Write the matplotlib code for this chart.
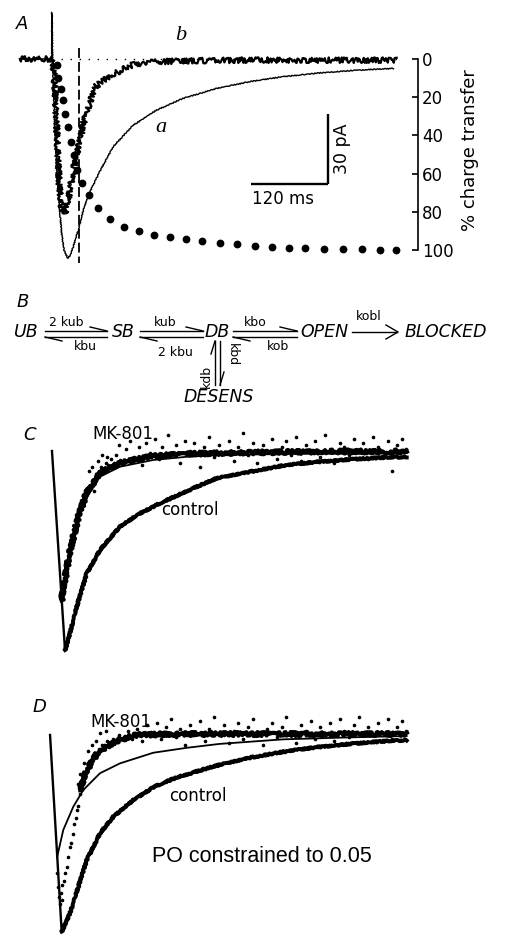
import matplotlib
matplotlib.use('Agg')
import matplotlib.pyplot as plt

plt.rcParams['font.family'] = ['DejaVu Sans']

# ---------------- data (time in ms, current in pA / normalised) -------------
# Panel A : trace a (control) and trace b (MK-801), pA
a_t = [-50, -0.4, 0, 0.8, 2, 4.7, 7.3, 11.4, 15, 19, 24.4, 29, 34, 41, 48.8, 59,
       75, 95, 126, 163, 204, 257, 308, 360, 412, 464, 532]
a_i = [0, 0, 20, 0, -10.4, -31.7, -46, -63, -74.7, -82, -85.4, -84, -79.7, -73.3,
       -64.7, -57, -48, -37.7, -28.5, -21.9, -16.9, -12.6, -9.7, -7.6, -6.1, -5, -4]
b_t = [-50, 0, 2, 4.7, 8.3, 11.4, 15, 20.3, 25.4, 30.6, 37.4, 46.2, 51.4, 55, 67,
       85, 106, 127, 153, 200, 300, 400, 537]
b_i = [0, 0, -3, -11.9, -34.7, -54.7, -63.3, -66.1, -60.4, -51.9, -41.9, -31.9,
       -24.7, -21.9, -12, -8.3, -5, -2.3, -1.3, -0.8, -0.5, -0.5, -0.5]
# cumulative charge transfer of trace a, %
ct_t = [7.3, 9.9, 13.5, 17.7, 20.3, 24.4, 29.1, 34.3, 39.5, 46.2, 58.2, 72.2, 90.4,
        112.7, 136.1, 159.5, 184, 209, 233.4, 262, 288, 316.5, 343.5, 368.5, 394.5,
        423, 454, 483, 511.5, 536.4]
ct_pct = [3.0, 10.0, 15.7, 21.7, 28.7, 35.7, 43.2, 50.2, 58.0, 64.7, 71.2, 78.1,
          83.7, 87.8, 90.0, 92.1, 93.4, 94.4, 95.1, 96.2, 96.9, 97.7, 98.3, 98.8,
          99.1, 99.3, 99.5, 99.7, 100, 100]
pct_ticks = [0, 20, 40, 60, 80, 100]
dash_t = 42
scale_t, scale_i = 120, 30

# Panel C (normalised current)
c_rise_t = [0, 20.3]
c_rise_i = [0, -1.0]
c_ctrl_t = [20.3, 28.0, 38.5, 54.1, 74.8, 105.9, 137.1, 168.3, 209.9, 256.6,
            308.5, 360.4, 412.4, 464.3, 516.2, 552.6]
c_ctrl_i = [-1.0, -0.916, -0.782, -0.615, -0.497, -0.380, -0.313, -0.263,
            -0.201, -0.137, -0.104, -0.073, -0.055, -0.042, -0.033, -0.029]
c_fit_t = [15, 28.0, 41.0, 54.1, 74.8, 105.9, 157.8, 209.9, 261.7, 360.4, 464,
           552.6]
c_fit_i = [-0.749, -0.514, -0.347, -0.230, -0.129, -0.079, -0.045, -0.029,
           -0.020, -0.015, -0.013, -0.010]
c_mk_t = [15, 28, 41, 54, 75, 106, 158, 210, 262, 360, 464, 553]
c_mk_i = [-0.75, -0.50, -0.33, -0.21, -0.11, -0.06, -0.025, -0.015, -0.01,
          -0.005, -0.002, -0.002]
c_dot_t = [16, 18, 20, 21, 23, 25, 26, 28, 30, 31, 33, 35, 37, 39, 40, 42, 44, 46,
           48, 50, 52, 55, 57, 60, 62, 65, 68, 70, 74, 77, 80, 84, 88, 92, 96,
           58, 63, 72, 66, 85, 78,
           100, 105, 110, 115, 122, 128, 135, 140, 147, 153, 160, 166, 172, 180,
           186, 193, 200, 208, 215, 222, 230, 237, 245, 252, 260, 268, 275, 283,
           290, 298, 305, 313, 320, 328, 335, 343, 350, 358, 365, 373, 380, 388,
           395, 403, 410, 418, 425, 433, 440, 448, 455, 463, 470, 478, 485, 493,
           500, 508, 515, 523, 530, 538, 545, 552]
c_dot_i = [-0.70, -0.68, -0.64, -0.67, -0.59, -0.57, -0.53, -0.50, -0.49, -0.45,
           -0.44, -0.40, -0.39, -0.35, -0.37, -0.32, -0.31, -0.27, -0.27, -0.24,
           -0.25, -0.20, -0.19, -0.17, -0.15, -0.14, -0.12, -0.13, -0.10, -0.08,
           -0.09, -0.06, -0.07, -0.04, -0.06,
           -0.10, -0.08, -0.05, -0.20, -0.03, -0.02,
           -0.02, 0.03, -0.05, 0.01, 0.05, -0.03, 0.02, -0.07, 0.04, -0.01, 0.06,
           -0.04, 0.02, 0.08, -0.02, 0.03, -0.06, 0.05, 0.0, 0.04, -0.08, 0.02,
           0.07, -0.03, 0.03, -0.01, 0.05, -0.05, 0.02, 0.09, -0.02, 0.04, -0.06,
           0.03, 0.0, 0.06, -0.04, 0.02, 0.05, -0.02, 0.07, -0.05, 0.03, 0.0,
           0.05, -0.03, 0.08, 0.01, -0.06, 0.04, 0.02, -0.02, 0.06, 0.0, 0.04,
           -0.04, 0.07, 0.02, -0.03, 0.05, -0.10, 0.03, 0.06, 0.01]

# Panel D (normalised current, PO constrained)
d_rise_t = [-3, 15.1]
d_rise_i = [0, -0.998]
d_ctrl_t = [15.1, 28, 41, 54.1, 74.8, 95.5, 126.7, 157.8, 194.3, 230.6, 256.6,
            308.5, 360.4, 412.4, 464.3, 516.2, 552.6]
d_ctrl_i = [-0.998, -0.905, -0.770, -0.635, -0.499, -0.415, -0.330, -0.265,
            -0.215, -0.18, -0.155, -0.115, -0.085, -0.062, -0.045, -0.032, -0.025]
d_fit_t = [8, 17.6, 33.2, 48.8, 74.8, 105.9, 157.8, 209.9, 261.7, 360.4, 464.3,
           552.6]
d_fit_i = [-0.62, -0.482, -0.364, -0.279, -0.194, -0.144, -0.09, -0.065, -0.045,
           -0.022, -0.012, -0.005]
d_mk_t = [44, 54, 72, 100, 130, 200, 300, 400, 553]
d_mk_i = [-0.28, -0.18, -0.085, -0.03, 0.0, 0.005, 0.005, 0.005, 0.005]
d_dot_t = [8, 10, 11, 12.5, 14, 15, 16, 18, 20, 23, 25, 28, 30, 33, 35, 37, 39, 41,
           43, 45, 47, 49, 51, 54, 57, 60, 63, 66, 70, 74, 78, 82, 86, 90, 95, 100,
           105, 112, 118, 125,
           44, 50, 56, 62, 68, 75, 40, 84,
           132, 140, 148, 155, 163, 170, 178, 185, 193, 200, 208, 215, 223, 230,
           238, 245, 253, 260, 268, 275, 283, 290, 298, 305, 313, 320, 328, 335,
           343, 350, 358, 365, 373, 380, 388, 395, 403, 410, 418, 425, 433, 440,
           448, 455, 463, 470, 478, 485, 493, 500, 508, 515, 523, 530, 538, 545, 552]
d_dot_i = [-0.70, -0.77, -0.82, -0.86, -0.80, -0.84, -0.76, -0.74, -0.70, -0.67,
           -0.62, -0.57, -0.55, -0.50, -0.45, -0.42, -0.38, -0.36, -0.30, -0.27,
           -0.24, -0.22, -0.19, -0.18, -0.15, -0.13, -0.12, -0.10, -0.09, -0.07,
           -0.05, -0.06, -0.03, -0.04, -0.02, -0.03, 0.0, -0.01, 0.02, -0.02,
           -0.20, -0.14, -0.08, -0.05, -0.03, 0.01, -0.25, 0.02,
           0.03, -0.03, 0.05, 0.0, 0.06, -0.02, 0.04, 0.08, -0.01, 0.03, -0.05,
           0.05, 0.01, 0.07, -0.03, 0.03, 0.09, 0.0, 0.05, -0.04, 0.02, 0.06,
           -0.02, 0.04, 0.08, 0.0, -0.05, 0.03, 0.06, -0.01, 0.04, 0.09, 0.01,
           -0.04, 0.05, 0.02, 0.07, -0.02, 0.04, 0.0, 0.06, -0.03, 0.08, 0.02,
           -0.01, 0.05, 0.09, 0.0, 0.04, -0.03, 0.06, 0.01, 0.08, -0.02, 0.04,
           0.07, 0.02]

# Panel B kinetic scheme
b_states = ['UB', 'SB', 'DB', 'OPEN', 'BLOCKED']
b_fwd = ['2 kub', 'kub', 'kbo']
b_back = ['kbu', '2 kbu', 'kob']
b_irrev = 'kobl'
b_des = ('DESENS', 'kdb', 'kbd')

# ---------------- layout ----------------------------------------------------
W, H = 505, 939
fig = plt.figure(figsize=(W / 100, H / 100), dpi=100)


def ax_at(x0, y0, x1, y1):
    return fig.add_axes([x0 / W, 1 - y1 / H, (x1 - x0) / W, (y1 - y0) / H])


K = 'black'
ov = fig.add_axes([0, 0, 1, 1])
ov.set_xlim(0, W)
ov.set_ylim(H, 0)
ov.axis('off')

# ---- Panel A
axA = ax_at(15, 10, 418, 265)
axA.set_xlim(-57.6, 570.2)
axA.set_ylim(-88.3, 21.0)
axA.axis('off')
la, = axA.plot(a_t, a_i, color=K, lw=1.0)
la.set_sketch_params(0.5, 3, 2)
lb, = axA.plot(b_t, b_i, color=K, lw=1.6)
lb.set_sketch_params(2.8, 1.6, 2)
axA.plot([0, 537], [0, 0], color=K, lw=1.0, ls=(0, (1, 5.5)))
axA.plot([dash_t, dash_t], [4.7, -87.4], color=K, lw=1.3, ls=(0, (5.5, 2.2)))
sb_t0, sb_i0 = 430, -53.6
axA.plot([sb_t0 - scale_t, sb_t0], [sb_i0, sb_i0], color=K, lw=1.7,
         solid_capstyle='butt')
axA.plot([sb_t0, sb_t0], [sb_i0, sb_i0 + scale_i], color=K, lw=1.7,
         solid_capstyle='butt')
axA.text(sb_t0 - scale_t / 2 - 10, sb_i0 - 2.5, f'{scale_t} ms', ha='center',
         va='top', fontsize=12)
axA.text(sb_t0 + 8, sb_i0 + scale_i / 2, f'{scale_i} pA', ha='left',
         va='center', rotation=90, fontsize=12.5)

axA2 = axA.twinx()
axA2.set_ylim(107.85, -25.65)
axA2.plot(ct_t, ct_pct, 'o', color=K, ms=4.6, ls='none')
for s in ['top', 'left', 'bottom']:
    axA2.spines[s].set_visible(False)
axA2.spines['right'].set_bounds(0, 100)
axA2.spines['right'].set_linewidth(1.2)
axA2.set_yticks(pct_ticks)
axA2.tick_params(axis='y', direction='in', length=4, width=1.2, labelsize=12,
                 pad=3)
axA2.xaxis.set_visible(False)
axA2.patch.set_visible(False)
ov.text(470, 150, '% charge transfer', rotation=90, ha='center', va='center',
        fontsize=13)
ov.text(22, 24, 'A', style='italic', fontsize=13, ha='center', va='center')
ov.text(181, 36, 'b', family='Liberation Serif', style='italic', fontsize=16,
        ha='center', va='center')
ov.text(161, 127, 'a', family='Liberation Serif', style='italic', fontsize=16,
        ha='center', va='center')

# ---- Panel B
ov.text(23, 302, 'B', style='italic', fontsize=13, ha='center', va='center')
row_y = 332
for name, x in zip(b_states, [26, 123, 217, 324, 446]):
    ov.text(x, row_y, name, style='italic', fontsize=12.5, ha='center',
            va='center')
lw_a = 1.0
for (x0, x1), f, bk, fx, bx, by in zip([(45, 107), (140, 203), (233, 297)],
                                       b_fwd, b_back, [66, 165, 255],
                                       [85, 175, 278], [347, 352, 347]):
    yt, yb = 331, 337
    ov.plot([x0, x1], [yt, yt], color=K, lw=lw_a)
    ov.plot([x1 - 17, x1], [yt - 4, yt], color=K, lw=lw_a)
    ov.plot([x0, x1], [yb, yb], color=K, lw=lw_a)
    ov.plot([x0, x0 + 17], [yb, yb + 4], color=K, lw=lw_a)
    ov.text(fx, 322, f, fontsize=9, ha='center', va='center')
    ov.text(bx, by, bk, fontsize=9, ha='center', va='center')
ov.plot([352, 397], [332, 332], color=K, lw=lw_a)
ov.plot([386, 398, 386], [325, 332, 339], color=K, lw=lw_a)
ov.text(369, 317, b_irrev, fontsize=9, ha='center', va='center')
ov.plot([215, 215], [385, 341], color=K, lw=lw_a)
ov.plot([211, 215], [354, 341], color=K, lw=lw_a)
ov.plot([220, 220], [341, 385], color=K, lw=lw_a)
ov.plot([224, 220], [372, 385], color=K, lw=lw_a)
ov.text(218.5, 397, b_des[0], style='italic', fontsize=12.5, ha='center',
        va='center')
ov.text(206, 376, b_des[1], rotation=90, fontsize=9, ha='center', va='center')
ov.text(232, 355, b_des[2], rotation=-90, fontsize=9, ha='center', va='center')

# ---- Panel C
axC = ax_at(15, 425, 418, 660)
axC.set_xlim(-57.6, 570.2)
axC.set_ylim(-1.050, 0.1307)
axC.axis('off')
axC.plot(c_rise_t, c_rise_i, color=K, lw=1.7)
lc, = axC.plot(c_ctrl_t, c_ctrl_i, color=K, lw=2.8, solid_joinstyle='round')
lc.set_sketch_params(0.8, 2, 2)
lm, = axC.plot(c_mk_t, c_mk_i, color=K, lw=3.0)
lm.set_sketch_params(2.0, 1.8, 2)
axC.plot(c_fit_t, c_fit_i, color=K, lw=1.3)
axC.plot(c_dot_t, c_dot_i, 'o', color=K, ms=1.6, ls='none')
ov.text(30, 435, 'C', style='italic', fontsize=13, ha='center', va='center')
ov.text(123, 434, 'MK-801', fontsize=12, ha='center', va='center')
ov.text(190, 510, 'control', fontsize=12, ha='center', va='center')

# ---- Panel D
axD = ax_at(15, 705, 418, 939)
axD.set_xlim(-57.6, 570.2)
axD.set_ylim(-1.0355, 0.1523)
axD.axis('off')
axD.plot(d_rise_t, d_rise_i, color=K, lw=1.7)
ld, = axD.plot(d_ctrl_t, d_ctrl_i, color=K, lw=2.8, solid_joinstyle='round')
ld.set_sketch_params(0.8, 2, 2)
lm2, = axD.plot(d_mk_t, d_mk_i, color=K, lw=3.0)
lm2.set_sketch_params(2.0, 1.8, 2)
axD.plot(d_fit_t, d_fit_i, color=K, lw=1.3)
axD.plot(d_dot_t, d_dot_i, 'o', color=K, ms=1.6, ls='none')
ov.text(39, 707, 'D', style='italic', fontsize=13, ha='center', va='center')
ov.text(121, 722, 'MK-801', fontsize=12, ha='center', va='center')
ov.text(198, 796, 'control', fontsize=12, ha='center', va='center')
ov.text(262, 856, 'PO constrained to 0.05', family='Liberation Sans',
        fontsize=15.5, ha='center', va='center')

fig.savefig('out.png', dpi=100)
